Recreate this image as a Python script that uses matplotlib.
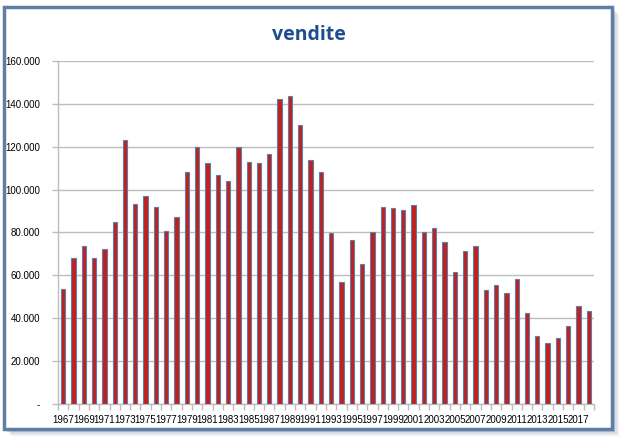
import numpy as np
import matplotlib.pyplot as plt
from matplotlib.patches import Rectangle
from matplotlib.ticker import FuncFormatter

years = list(range(1967, 2019))
vendite = [53.6, 68.3, 73.5, 68.3, 72.5, 84.7, 123.3, 93.5, 96.8, 92.1,
           80.5, 87.0, 108.0, 120.1, 112.6, 107.0, 104.2, 120.1, 113.1, 112.2,
           116.8, 142.4, 143.8, 130.3, 114.0, 108.4, 79.7, 56.7, 76.7, 65.1,
           80.0, 92.1, 91.2, 90.7, 92.6, 80.0, 81.9, 75.8, 61.8, 71.6,
           73.5, 53.0, 55.3, 52.0, 58.1, 42.3, 31.5, 28.3, 30.6, 36.2,
           45.5, 43.2]
vendite = [v * 1000 for v in vendite]

plt.rcParams['font.family'] = ['Liberation Sans', 'DejaVu Sans']

fig = plt.figure(figsize=(6.26, 4.46), dpi=100)
W, H = 626, 446

# shadow + frame like the spreadsheet chart box
for i, a in enumerate([0.12, 0.18, 0.26]):
    off = 7 - i * 2
    fig.patches.append(Rectangle(((4 + off) / W, 1 - (429 + off) / H), 608 / W, 422 / H,
                                 transform=fig.transFigure, facecolor='#6f84a0', alpha=a,
                                 edgecolor='none', zorder=0))
fig.patches.append(Rectangle((4 / W, 1 - 429 / H), 608 / W, 422 / H,
                             transform=fig.transFigure, facecolor='white',
                             edgecolor='#5e7ea6', linewidth=2.5, zorder=1))

ax = fig.add_axes([58 / W, 1 - 404 / H, (594 - 58) / W, (404 - 61) / H], zorder=2)
ax.set_facecolor('none')

x = np.arange(len(years))
ax.bar(x, vendite, width=0.42, color='#c0201e', edgecolor='#5f7fa8', linewidth=0.8, zorder=3)

ax.set_xlim(-0.5, len(years) - 0.5)
ax.set_ylim(0, 160000)
ax.set_yticks(np.arange(0, 160001, 20000))
ax.yaxis.set_major_formatter(FuncFormatter(
    lambda v, p: '-' if v == 0 else f'{int(v):,}'.replace(',', '.')))
ax.grid(axis='y', color='#bdbdbd', linewidth=1.0, zorder=0)

ax.set_xticks(x[::2])
ax.set_xticklabels([str(y) for y in years[::2]])
ax.set_xticks(np.arange(-0.5, len(years), 1), minor=True)
ax.tick_params(axis='x', which='major', length=0, labelsize=7, pad=8, colors='black')
ax.tick_params(axis='x', which='minor', length=4, color='#bdbdbd', width=1)
ax.tick_params(axis='y', length=4, color='#bdbdbd', width=1, labelsize=7, pad=9)

for s in ['top', 'right']:
    ax.spines[s].set_visible(False)
for s in ['left', 'bottom']:
    ax.spines[s].set_color('#bdbdbd')
    ax.spines[s].set_linewidth(1.0)

fig.text(309 / W, 1 - 35 / H, 'vendite', ha='center', va='center',
         fontsize=14, fontweight='bold', color='#1f4e8c', family=['Open Sans', 'DejaVu Sans'],
         zorder=5)

fig.savefig('out.png', dpi=100)
